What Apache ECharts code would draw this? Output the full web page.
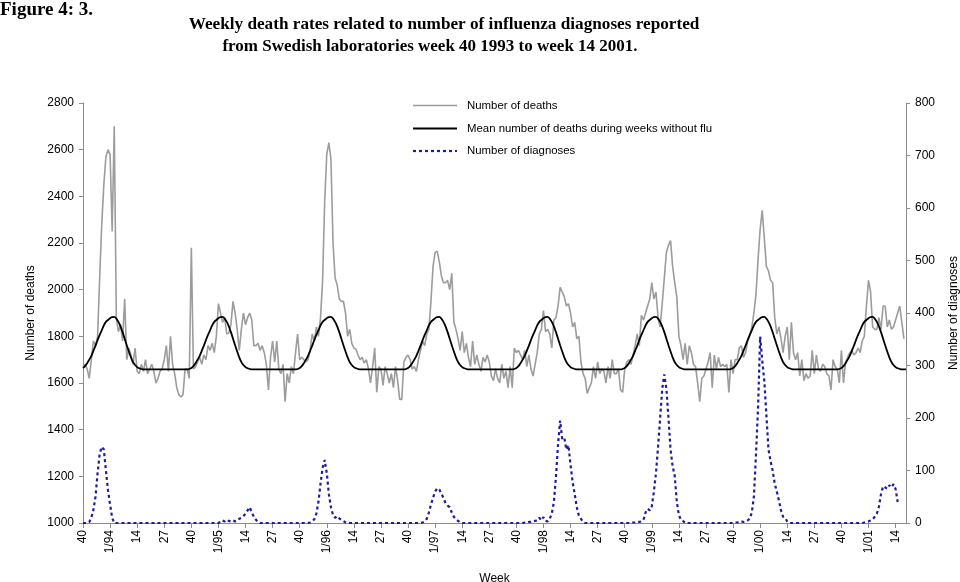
<!DOCTYPE html>
<html>
<head>
<meta charset="utf-8">
<script src="https://cdn.jsdelivr.net/npm/echarts@6/dist/echarts.min.js"></script>
<style>
html,body{margin:0;padding:0;background:#fff;}
#chart{width:960px;height:582px;}
</style>
</head>
<body>
<div id="chart"></div>
<script>
// ---- Data (weekly, week 40 1993 -> week 19 2001) ----
const startYear = 1993;
const startWeek = 40;
const nWeeks = 396;

// Number of deaths per week (left axis), index 0 = week 40 1993
const deaths = [
1670,1680,1660,1620,1700,1780,1760,1800,2050,2280,
2450,2570,2600,2580,2250,2700,1880,1820,1850,1780,
1960,1700,1750,1720,1680,1750,1650,1640,1680,1650,
1700,1640,1660,1680,1650,1600,1620,1650,1660,1700,
1760,1650,1800,1680,1640,1580,1550,1540,1550,1660,
1660,1620,2180,1660,1670,1690,1710,1680,1720,1700,
1760,1740,1770,1730,1800,1940,1900,1860,1880,1810,
1815,1850,1950,1900,1830,1740,1830,1900,1850,1880,
1900,1870,1760,1760,1770,1740,1760,1730,1680,1570,
1710,1780,1690,1780,1660,1640,1680,1520,1640,1600,
1670,1640,1730,1810,1700,1710,1700,1690,1700,1740,
1810,1780,1840,1800,1880,2040,2380,2580,2630,2560,
2200,2050,2020,1960,1950,1950,1900,1800,1830,1770,
1750,1745,1720,1700,1710,1685,1700,1660,1600,1670,
1750,1560,1670,1660,1590,1670,1640,1600,1640,1580,
1670,1610,1530,1530,1690,1710,1720,1700,1660,1670,
1650,1700,1740,1780,1760,1810,1830,1950,2100,2160,
2165,2120,2060,2030,2030,2040,2000,2070,1860,1830,
1790,1740,1820,1730,1770,1710,1670,1780,1680,1720,
1680,1650,1710,1690,1720,1690,1630,1610,1660,1620,
1600,1680,1620,1650,1580,1670,1580,1750,1730,1740,
1720,1700,1740,1670,1720,1660,1630,1680,1730,1810,
1830,1910,1820,1830,1810,1750,1870,1880,1930,2010,
1990,1970,1930,1940,1900,1840,1860,1790,1800,1690,
1640,1620,1555,1580,1600,1670,1620,1690,1640,1660,
1650,1600,1670,1620,1700,1640,1640,1660,1570,1560,
1660,1690,1700,1680,1720,1760,1810,1760,1890,1870,
1900,1930,1960,2030,1960,1990,1880,1840,1940,2050,
2160,2190,2210,2100,2030,1970,1800,1760,1700,1770,
1680,1760,1730,1680,1670,1600,1520,1620,1630,1660,
1690,1730,1580,1720,1660,1710,1670,1680,1670,1680,
1560,1700,1640,1700,1700,1750,1760,1710,1730,1780,
1800,1840,1900,1980,2130,2260,2340,2220,2100,2080,
2040,2030,1880,1810,1840,1790,1730,1800,1840,1700,
1860,1730,1700,1730,1630,1700,1610,1640,1620,1630,
1740,1640,1720,1660,1650,1680,1670,1640,1630,1570,
1700,1670,1660,1600,1740,1600,1690,1710,1730,1740,
1720,1730,1750,1730,1780,1800,1930,2040,1990,1840,
1830,1830,1880,1830,1930,1930,1840,1870,1830,1840,
1870,1900,1930,1860,1790
];

// Mean number of deaths during weeks without flu, by week of year (1..52)
const meanByWeek = [
1878,1882,1883,1876,1862,1843,1818,1790,1762,1735,1710,1690,1677,1668,1663,1660,
1658,1658,1658,1658,1658,1658,1658,1658,1658,1658,1658,1658,1658,1658,1658,1658,1658,1658,1658,1658,1658,1658,
1660,1664,1672,1685,1700,1716,1738,1760,1784,1806,1826,1847,1862,1870
];

// Number of influenza diagnoses (right axis): epidemic seasons, index of first week + weekly values
const diagSeasons = [
  {from: 3,   values: [2,10,25,50,95,132,145,140,100,62,35,10]},
  {from: 66,  values: [2,5,3,6,4,3,5,3,4,8,10,13,18,24,30,20,12,6,2]},
  {from: 109, values: [1,3,7,18,40,75,105,120,95,55,30,15,10,13,9,6,4,1]},
  {from: 163, values: [1,3,8,20,35,48,60,66,64,56,48,38,33,30,20,12,7,4,2]},
  {from: 212, values: [1,1,2,2,3,4,5,10,5,11,4,3,8,18,40,88,150,195,160,162,140,148,110,78,55,30,14,8,2]},
  {from: 264, values: [1,1,2,2,3,6,20,27,24,32,60,95,145,200,255,283,255,200,140,108,90,40,15,6,4]},
  {from: 313, values: [1,1,2,3,2,3,5,8,20,50,130,220,355,310,270,205,140,118,100,75,60,43,24,12,10,3]},
  {from: 375, values: [1,2,3,5,7,12,18,31,55,70,68,65,72,68,74,65,40]}
];
const diagLastIndex = 391;

// Tick labels shown every 13 weeks
const tickLabels = ['40','1/94','14','27','40','1/95','14','27','40','1/96','14','27','40','1/97','14','27','40','1/98','14','27','40','1/99','14','27','40','1/00','14','27','40','1/01','14'];

// Legend entries
const legendNames = ['Number of deaths', 'Mean number of deaths during weeks without flu', 'Number of diagnoses'];

// ---- Build tables ----
const weekNo = [];
const categories = [];
{
  let w = startWeek;
  for (let i = 0; i < nWeeks; i++) {
    weekNo.push(w);
    categories.push(i % 13 === 0 ? (tickLabels[i / 13] || '') : String(w));
    w++; if (w > 52) { w = 1; }
  }
}
const meanSeries = weekNo.map(w => meanByWeek[w - 1]);
const diagSeries = [];
for (let i = 0; i <= diagLastIndex; i++) diagSeries.push(0);
diagSeasons.forEach(s => s.values.forEach((v, k) => { diagSeries[s.from + k] = v; }));

const chart = echarts.init(document.getElementById('chart'), null, {renderer: 'canvas'});
const axisGray = '#8c8c8c';
const deathGray = '#9c9c9c';
const diagBlue = '#1c1ca0';
const sans = '"Liberation Sans", Arial, sans-serif';
const serif = '"Liberation Serif", "Times New Roman", serif';

// manual legend (line samples + text)
const legendX = 413, legendY = [105.5, 128.5, 151];
const legendStyles = [
  {stroke: deathGray, lineWidth: 1.6},
  {stroke: '#000', lineWidth: 1.8},
  {stroke: diagBlue, lineWidth: 2.2, lineDash: [3, 3]}
];
const legendGraphics = [];
legendNames.forEach((n, k) => {
  legendGraphics.push({type: 'line', shape: {x1: legendX, y1: legendY[k], x2: legendX + 44, y2: legendY[k]}, style: legendStyles[k], silent: true});
  legendGraphics.push({type: 'text', x: legendX + 54, y: legendY[k], style: {text: n, font: '11.4px ' + sans, fill: '#000', textVerticalAlign: 'middle'}, silent: true});
});

chart.setOption({
  animation: false,
  backgroundColor: '#fff',
  textStyle: {fontFamily: sans},
  graphic: [
    {type: 'text', left: 0, top: 1, style: {text: 'Figure 4: 3.', font: 'bold 19px ' + serif, fill: '#000'}},
    {type: 'text', x: 444, y: 25, style: {text: 'Weekly death rates related to number of influenza diagnoses reported', font: 'bold 17.2px ' + serif, fill: '#000', textAlign: 'center', textVerticalAlign: 'middle'}},
    {type: 'text', x: 430, y: 47, style: {text: 'from Swedish laboratories week 40 1993 to week 14 2001.', font: 'bold 17px ' + serif, fill: '#000', textAlign: 'center', textVerticalAlign: 'middle'}}
  ].concat(legendGraphics),
  grid: {left: 83, right: 54, top: 103, bottom: 59, containLabel: false, outerBoundsMode: 'none'},
  xAxis: {
    type: 'category',
    data: categories,
    boundaryGap: false,
    name: 'Week',
    nameLocation: 'middle',
    nameGap: 50,
    nameTextStyle: {fontSize: 12, color: '#000'},
    axisLine: {lineStyle: {color: axisGray, width: 1}},
    axisTick: {interval: 12, length: 5, lineStyle: {color: axisGray}},
    axisLabel: {interval: 12, rotate: 90, fontSize: 12, color: '#000', margin: 7}
  },
  yAxis: [
    {
      type: 'value', min: 1000, max: 2800, interval: 200, position: 'left',
      name: 'Number of deaths', nameLocation: 'middle', nameRotate: 90, nameGap: 42,
      nameTextStyle: {fontSize: 12, color: '#000'},
      axisLine: {show: true, lineStyle: {color: axisGray, width: 1}},
      axisTick: {show: true, length: 4, lineStyle: {color: axisGray}},
      axisLabel: {fontSize: 12, color: '#000', margin: 9, formatter: v => String(v)},
      splitLine: {show: false}
    },
    {
      type: 'value', min: 0, max: 800, interval: 100, position: 'right',
      name: 'Number of diagnoses', nameLocation: 'middle', nameRotate: 90, nameGap: 42,
      nameTextStyle: {fontSize: 12, color: '#000'},
      axisLine: {show: true, lineStyle: {color: axisGray, width: 1}},
      axisTick: {show: true, length: 4, lineStyle: {color: axisGray}},
      axisLabel: {fontSize: 12, color: '#000', margin: 9, formatter: v => String(v)},
      splitLine: {show: false}
    }
  ],
  series: [
    {
      name: legendNames[0], type: 'line', yAxisIndex: 0, data: deaths,
      symbol: 'none', color: deathGray, lineStyle: {color: deathGray, width: 1.6}, z: 2
    },
    {
      name: legendNames[1], type: 'line', yAxisIndex: 0, data: meanSeries,
      symbol: 'none', smooth: 0.3, color: '#000', lineStyle: {color: '#000', width: 1.8}, z: 3
    },
    {
      name: legendNames[2], type: 'line', yAxisIndex: 1, data: diagSeries,
      symbol: 'none', color: diagBlue, lineStyle: {color: diagBlue, width: 2.2, type: [3, 3]}, z: 4
    }
  ]
});
</script>
</body>
</html>
